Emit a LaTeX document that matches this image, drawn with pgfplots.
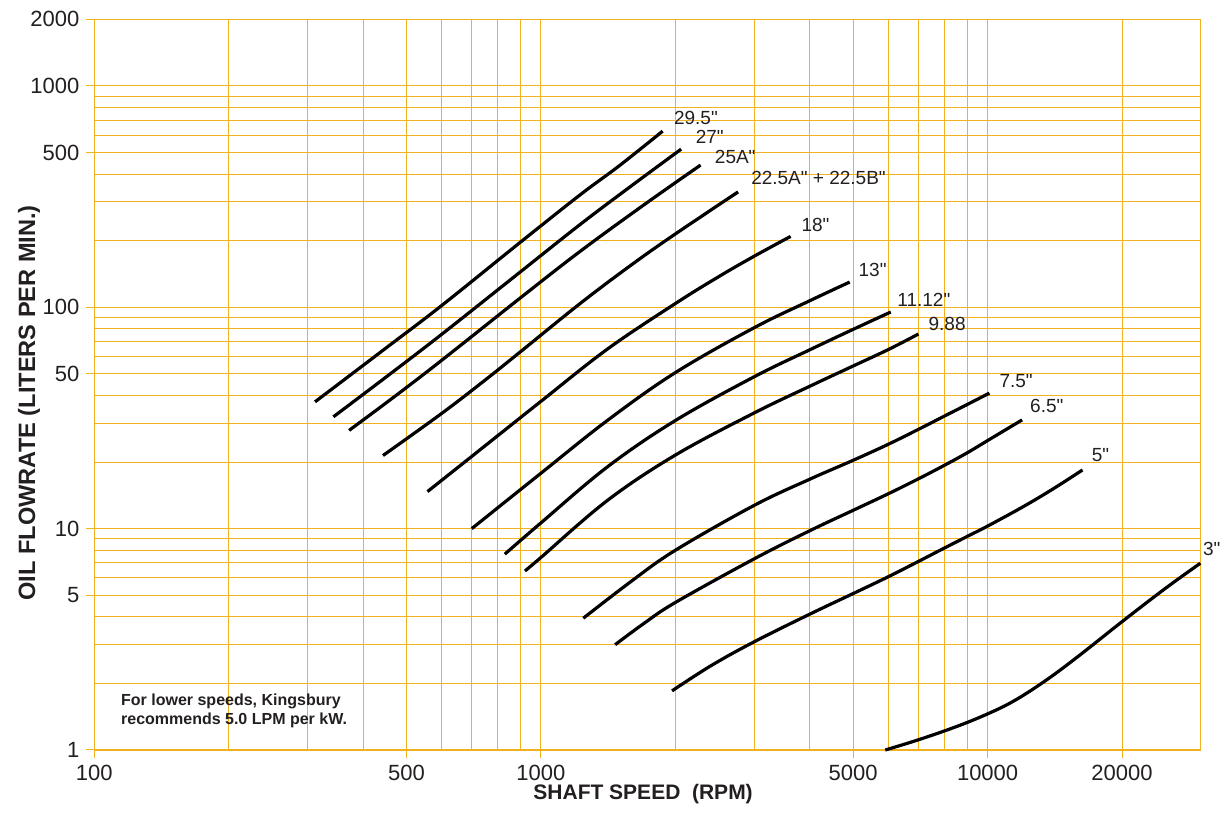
\documentclass[border=0pt]{standalone}
\usepackage{fontspec}
\setmainfont{Liberation Sans}[Ligatures=TeXOff]
\usepackage{pgfplots}
\pgfplotsset{compat=1.18}
\definecolor{gridc}{RGB}{240,178,30}
\definecolor{txt}{RGB}{35,31,32}
\begin{document}
\begin{tikzpicture}
\begin{loglogaxis}[
  scale only axis,
  width=553.2pt, height=365.35pt,
  xmin=100, xmax=30000, ymin=1, ymax=2000,
  xtick={100,500,1000,5000,10000,20000},
  xticklabels={100,500,1000,5000,10000,20000},
  minor xtick={200,300,400,600,700,800,900,2000,3000,4000,6000,7000,8000,9000},
  ytick={1,5,10,50,100,500,1000,2000},
  yticklabels={1,5,10,50,100,500,1000,2000},
  minor ytick={2,3,4,6,7,8,9,20,30,40,60,70,80,90,200,300,400,600,700,800,900},
  grid=both,
  major grid style={gridc, line width=0.5pt},
  minor grid style={gridc, line width=0.5pt},
  axis line style={gridc, line width=0.6pt},
  tick align=outside,
  major tick length=4pt, minor tick length=0pt,
  tick style={gridc, line width=0.5pt},
  xtick pos=left, ytick pos=left,
  ticklabel style={font=\fontsize{11}{13}\selectfont, text=txt},
  clip=false,
  curve/.style={black, solid, mark=none, line width=1.6pt, smooth, tension=0.6},
]
\coordinate (sw) at (rel axis cs:0,0);
\coordinate (ne) at (rel axis cs:1,1);

% 29.5"
\addplot[curve] coordinates {
(312,37.4) (450,65.5) (600,102) (900,197) (1226,323) (1500,437) (1873,625)};
% 27"
\addplot[curve] coordinates {
(343,32.0) (450,48.4) (600,75.6) (900,144.7) (1226,237.3) (1600,355.7) (2060,518)};
% 25A"
\addplot[curve] coordinates {
(372,27.8) (470,39.5) (600,57.7) (900,110.4) (1226,179.4) (1700,290.1) (2277,439)};
% 22.5A" + 22.5B"
\addplot[curve] coordinates {
(443,21.4) (600,33.2) (750,46.9) (900,63.0) (1226,104.3) (1600,156.3) (2000,214.5) (2763,332)};
% 18"
\addplot[curve] coordinates {
(557,14.7) (700,21.2) (1000,37.6) (1408,64.7) (2000,104) (2500,137.5) (3000,170) (3622,209)};
% 13"
\addplot[curve] coordinates {
(700,10.0) (1000,17.8) (1408,30.8) (2000,50.7) (3000,80.8) (4000,107.1) (4912,130)};
% 11.12"
\addplot[curve] coordinates {
(830,7.67) (1000,10.62) (1408,19.0) (2000,30.8) (3000,48.5) (4000,64.3) (5000,79.5) (6070,95.2)};
% 9.88
\addplot[curve] coordinates {
(921,6.44) (1000,7.41) (1408,13.4) (2000,21.5) (3000,33.3) (4000,44.0) (5000,54.3) (6000,64.5) (7000,75.7)};
% 7.5"
\addplot[curve] coordinates {
(1244,3.94) (1600,5.82) (2000,7.99) (3000,12.73) (4000,16.73) (5000,20.36) (6000,24.08) (7000,28.09) (8000,32.23) (9000,36.38) (10090,40.93)};
% 6.5"
\addplot[curve] coordinates {
(1466,2.99) (1700,3.73) (2000,4.64) (3000,7.30) (4000,9.79) (5000,12.10) (6000,14.39) (7000,16.79) (8000,19.32) (9000,22.0) (10000,25.0) (11950,31.0)};
% 5"
\addplot[curve] coordinates {
(1966,1.85) (2400,2.40) (3000,3.08) (4000,4.11) (5000,5.09) (6000,6.07) (7000,7.11) (8000,8.17) (9000,9.22) (10000,10.27) (12000,12.55) (14000,15.10) (16310,18.41)};
% 3"
\addplot[curve] coordinates {
(5900,1.0) (7000,1.112) (8500,1.274) (10000,1.456) (11500,1.674) (13500,2.062) (16000,2.661) (20000,3.80) (25000,5.37) (29950,6.98)};

\begin{scope}[every node/.style={anchor=west, inner sep=0pt, font=\fontsize{9.5}{11}\selectfont, text=txt}]
\node at (axis cs:1982,714) {29.5"};
\node at (axis cs:2217,587) {27"};
\node at (axis cs:2447,477) {25A"};
\node at (axis cs:2951,382) {22.5A" + 22.5B"};
\node at (axis cs:3825,236) {18"};
\node at (axis cs:5134,147.5) {13"};
\node at (axis cs:6269,108.3) {11.12"};
\node at (axis cs:7362,84.1) {9.88};
\node at (axis cs:10614,46.4) {7.5"};
\node at (axis cs:12430,35.7) {6.5"};
\node at (axis cs:17077,21.4) {5"};
\node[xshift=1pt] at (axis cs:30000,8.06) {3"};
\end{scope}

\node[anchor=north west, align=left, inner sep=0pt, text=txt,
      font=\bfseries\fontsize{8}{9.5}\selectfont] at (axis cs:114.6,1.80)
  {For lower speeds, Kingsbury\\recommends 5.0 LPM per kW.};

\node[anchor=base, text=txt, font=\bfseries\fontsize{10.5}{12}\selectfont]
  at (axis description cs:0.496,-0.0684) {SHAFT SPEED\ \ (RPM)};
\node[anchor=base, rotate=90, text=txt, font=\bfseries\fontsize{11.8}{13}\selectfont]
  at (axis description cs:-0.0536,0.475) {OIL FLOWRATE (LITERS PER MIN.)};
\end{loglogaxis}
\pgfresetboundingbox
\path ([shift={(-47.15pt,-32.5pt)}]sw) rectangle ([shift={(9.65pt,9.65pt)}]ne);
\end{tikzpicture}
\end{document}
